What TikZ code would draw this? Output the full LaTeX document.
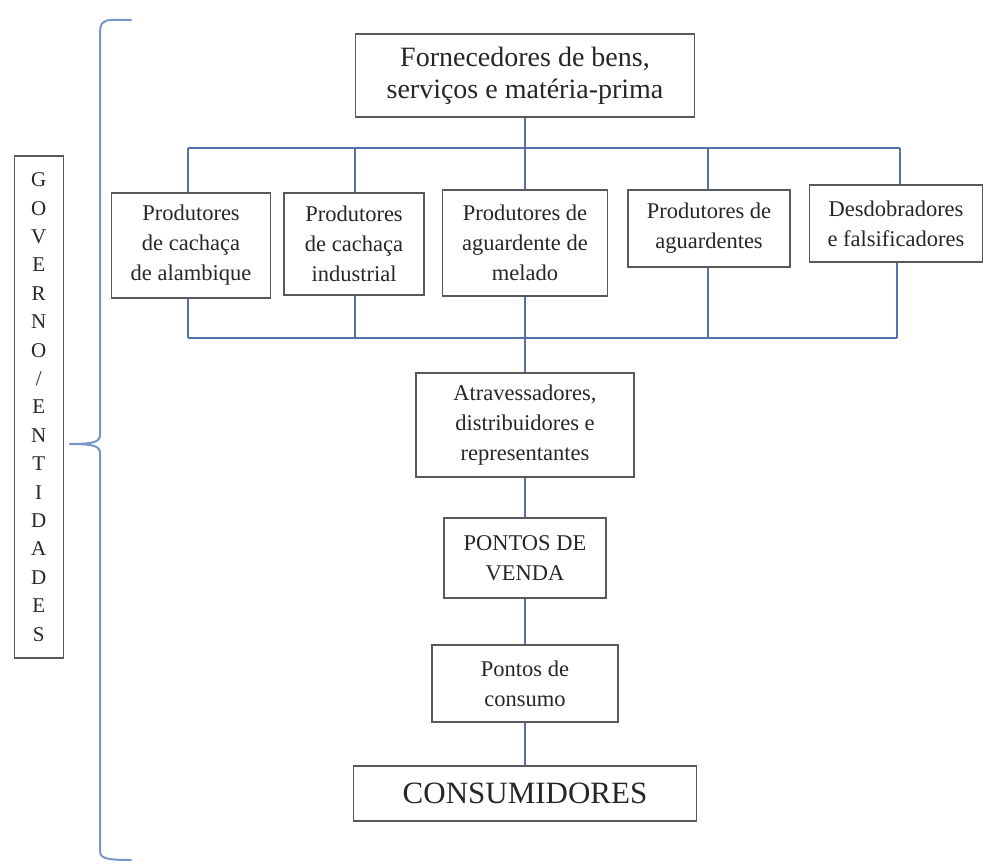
\documentclass[tikz,border=0pt]{standalone}
\usepackage{fontspec}
\setmainfont{Liberation Serif}
\begin{document}
\begin{tikzpicture}[x=1pt,y=-1pt,
  box/.style={draw=black!65,line width=1.4pt,rectangle,inner sep=0pt,align=center,
    font=\fontsize{22.5}{30}\selectfont,text=black!85},
  link/.style={draw={rgb,255:red,84;green,112;blue,168},line width=1.8pt},
  bracecol/.style={draw={rgb,255:red,120;green,150;blue,200},line width=2pt,line cap=round}]
\useasboundingbox (0,0) rectangle (984,864);
% top supplier
\node[box,minimum width=339pt,minimum height=83pt,font=\fontsize{28}{32}\selectfont] (forn) at (525,75.5) {Fornecedores de bens,\\serviços e matéria-prima};
% producers
\node[box,minimum width=159pt,minimum height=105pt] (b1) at (191,245.5) {Produtores\\de cachaça\\de alambique};
\node[box,minimum width=140pt,minimum height=102pt] (b2) at (354,244) {Produtores\\de cachaça\\industrial};
\node[box,minimum width=165pt,minimum height=106pt] (b3) at (525,243) {Produtores de\\aguardente de\\melado};
\node[box,minimum width=162pt,minimum height=77pt] (b4) at (709,228.5) {Produtores de\\aguardentes};
\node[box,minimum width=173pt,minimum height=77pt] (b5) at (896,223.5) {Desdobradores\\e falsificadores};
% chain
\node[box,minimum width=218pt,minimum height=104pt] (atr) at (525,425) {Atravessadores,\\distribuidores e\\representantes};
\node[box,minimum width=162pt,minimum height=80pt] (pv) at (525,558) {PONTOS DE\\VENDA};
\node[box,minimum width=186pt,minimum height=77pt] (pc) at (525,683.5) {Pontos de\\consumo};
\node[box,minimum width=343pt,minimum height=55pt,font=\fontsize{31}{34}\selectfont] (cons) at (525,793.5) {CONSUMIDORES};
% governo
\node[box,minimum width=49pt,minimum height=502pt,font=\fontsize{21}{28.4}\selectfont] (gov) at (38.7,407) {G\\O\\V\\E\\R\\N\\O\\/\\E\\N\\T\\I\\D\\A\\D\\E\\S};
% buses
\coordinate (tl) at (188,148);
\coordinate (tr) at (900,148);
\coordinate (bl) at (188,338);
\coordinate (br) at (897,338);
\coordinate (b2t) at (355,148);
\coordinate (b4t) at (708,148);
\coordinate (b2b) at (355,338);
\coordinate (b4b) at (708,338);
\draw[link] (tl) -- (tr);
\draw[link] (bl) -- (br);
\draw[link] (forn.south) -- (b3.north);
\draw[link] (tl) -- (tl |- b1.north);
\draw[link] (b2t) -- (b2t |- b2.north);
\draw[link] (b4t) -- (b4t |- b4.north);
\draw[link] (tr) -- (tr |- b5.north);
\draw[link] (bl |- b1.south) -- (bl);
\draw[link] (b2b |- b2.south) -- (b2b);
\draw[link] (b4b |- b4.south) -- (b4b);
\draw[link] (br |- b5.south) -- (br);
\draw[link] (b3.south) -- (atr.north);
\draw[link] (atr.south) -- (pv.north);
\draw[link] (pv.south) -- (pc.north);
\draw[link] (pc.south) -- (cons.north);
% brace
\coordinate (btop) at (131,20);
\coordinate (btip) at (70,444);
\coordinate (bbot) at (131,860);
\draw[bracecol] (btop) -- (112,20) .. controls (102,20) and (100,24) .. (100,34)
  -- (100,434) .. controls (100,441) and (97,444) .. (btip);
\draw[bracecol] (btip) .. controls (97,444) and (100,447) .. (100,454)
  -- (100,850) .. controls (100,858) and (104,860) .. (bbot);
\end{tikzpicture}
\end{document}
